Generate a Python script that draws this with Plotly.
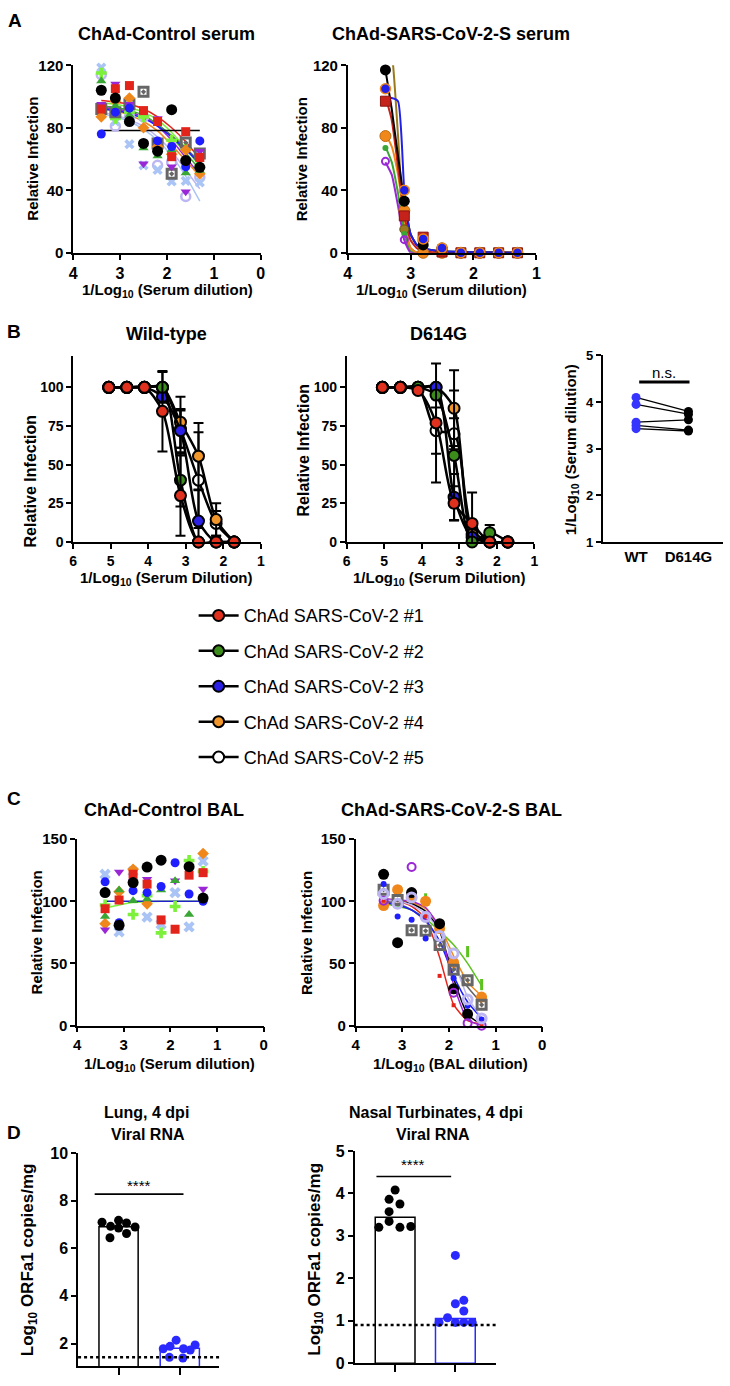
import plotly.graph_objects as go

W, H = 730, 1386

# ---------------- Panel A : serum neutralization (dilution = 1/log10) ----------------
A_DIL = [3.4, 3.1, 2.8, 2.5, 2.2, 1.9, 1.6, 1.3]

A1_black = [104, 99, 84, 70, 65, 91.6, 59, 54.7]
A1_black_fit = [78.3, 78.3, 78.3, 78.3, 78.3, 78.3, 78.3, 78.3]
A1_red = [92, 105, 107, 91, 84, 61.5, 77.5, 61]
A1_red_fit = [97.5, 96.5, 95, 92, 87, 80, 71, 60]
A1_blue = [76, 90, 92.6, 70, 71.6, 68, 55, 71.6]
A1_blue_fit = [92, 91, 89, 86, 81, 74, 66, 57]
A1_green = [110, 94, 88, 67, 62, 66, 51, 52.6]
A1_green_fit = [94, 93, 91, 88, 82, 74, 64, 53]
A1_purple = [95, 108, 95, 57, 86, 55, 39, 65]
A1_purple_fit = [93, 92, 90, 87, 81, 72, 61, 50]
A1_orange = [87, 97, 99, 80, 68, 63, 65.7, 50.5]
A1_orange_fit = [92, 91, 88, 84, 78, 69, 59, 49]
A1_ltblue = [118.5, 84, 69.5, 56, 53, 45.7, 46, 45]
A1_ltblue_fit = [89, 87, 84, 79, 72, 62, 49, 33]
A1_ltgreen = [115, 86, 90, 87, 70, 72, 67, 55]
A1_ltgreen_fit = [96, 95, 93, 90, 85, 77, 67, 55]
A1_lavender = [114, 81, 87, 87, 56, 58, 36, 48.4]
A1_lavender_fit = [90, 88, 85, 81, 74, 65, 53, 41]
A1_gray = [92, 90, 95, 103, 70, 50.5, 70.5, 63.6]
A1_gray_fit = [93, 92, 90, 87, 82, 75, 67, 58]

A2_black = [117, 33, 5, 3, 0, 0, 0, 0]
A2_red = [97, 23.6, 10, 0.5, 0, 0, 0, 0]
A2_blue = [105, 40, 8.8, 3, 0, 0, 0, 0]
A2_orange = [74.7, 27, 0, 0, 0, 0, 0, 0]
A2_green = [67, 12, 0, 0, 0, 0, 0, 0]
A2_purple = [58.5, 8.4, 0, 0, 0, 0, 0, 0]
A2_olive = [None, 15, 2, 0, 0, 0, 0, 0]
A2_FIT_X = [3.4, 3.3, 3.2, 3.1, 3.0, 2.9, 2.8, 2.5, 1.3]
A2_black_fit = [117, 92, 62, 33, 12, 5, 3, 1, 0]
A2_red_fit = [100, 85, 55, 24, 8, 3, 1, 0, 0]
A2_blue_fit = [99, 99, 97, 40, 12, 5, 3, 1, 0]
A2_orange_fit = [76, 68, 50, 22, 3, 0, 0, 0, 0]
A2_green_fit = [68, 58, 38, 12, 1, 0, 0, 0, 0]
A2_purple_fit = [58, 50, 30, 8, 0, 0, 0, 0, 0]
A2_olive_fit = [140, 128, 75, 15, 3, 0, 0, 0, 0]

# ---------------- Panel B : Wild-type / D614G ----------------
B_DIL = [5.05, 4.57, 4.10, 3.62, 3.14, 2.66, 2.19, 1.71]
B_NAMES = ["ChAd SARS-CoV-2 #1", "ChAd SARS-CoV-2 #2", "ChAd SARS-CoV-2 #3",
           "ChAd SARS-CoV-2 #4", "ChAd SARS-CoV-2 #5"]
WT_1 = [100, 100, 100, 84.5, 30, 0, 0, 0]
WT_1_err = [0, 0, 0, 26, 26, 0, 0, 0]
WT_2 = [100, 100, 100, 100, 40, 0, 0, 0]
WT_2_err = [0, 0, 0, 10, 17, 0, 0, 0]
WT_3 = [100, 100, 100, 94, 72, 13.5, 0, 0]
WT_3_err = [0, 0, 0, 0, 14, 20, 0, 0]
WT_4 = [100, 100, 100, 100, 77.5, 55.5, 14.5, 0]
WT_4_err = [0, 0, 0, 0, 16.5, 21.5, 10.5, 0]
WT_5 = [100, 100, 100, 100, 73, 40, 12, 0]
WT_5_err = [0, 0, 0, 0, 12, 31, 8, 0]

D6_1 = [100, 100, 98, 77, 25, 12, 0, 0]
D6_1_err = [0, 0, 0, 38.5, 11, 20, 0, 0]
D6_2 = [100, 100, 100, 95, 56, 0, 6, 0]
D6_2_err = [0, 0, 0, 0, 42, 0, 5, 0]
D6_3 = [100, 100, 100, 100, 29, 3, 0, 0]
D6_3_err = [0, 0, 0, 0, 15, 5, 0, 0]
D6_4 = [100, 100, 100, 100, 86.5, 5, 0, 0]
D6_4_err = [0, 0, 0, 0, 24.5, 5, 0, 0]
D6_5 = [100, 100, 100, 72, 70, 8, 0, 0]
D6_5_err = [0, 0, 0, 15, 10, 5, 0, 0]

B3_CATS = ["WT", "D614G"]
B3_WT = [4.10, 3.95, 3.57, 3.50, 3.43]
B3_D614G = [3.80, 3.74, 3.62, 3.40, 3.38]

# ---------------- Panel C : BAL ----------------
C_DIL = [3.4, 3.1, 2.8, 2.5, 2.2, 1.9, 1.6, 1.3]
C1_black = [107, 80.7, 115, 127.5, 133, None, 127.8, 102.6]
C1_red = [94, 101, 121.7, 113.8, 85, 77.5, 121, 123]
C1_blue = [115.6, 82.8, 108.5, 107, 111.9, 131, 105.8, 100]
C1_green = [87.8, 109, 100.5, 101.9, 109, 116.4, 89.4, None]
C1_purple = [77, 123.5, 115.9, 117.7, None, 116.4, 127.5, 109.8]
C1_orange = [82, 107.7, 125.7, 97.9, None, None, None, 138.4]
C1_ltblue = [121.7, 75.4, 124, 87.3, 81.5, 107, 79.4, 132.3]
C1_ltgreen = [97, None, 89.4, 104.5, 74.6, 95.8, 132.8, 124]
C1_blue_fit = [100, 100, 100, 100, 100, 100, 100, 100]
C1_ltgreen_fit = [94.5, 97, 99, 99.7, 100, 100, 100, 100]

C2_black = [121.7, 66.7, 107, None, 82, 29.6, 9.3, None]
C2_black_fit = [101, 100, 98, 92, 76, 38, 9, 1]
C2_red = [100.5, None, None, 88, 40, 16.4, None, 1.3]
C2_red_fit = [101, 100, 96, 86, 55, 17, 4, 1]
C2_blue = [113.8, 87.8, 85.2, 70, None, 38, 15.9, 5]
C2_blue_fit = [99, 97, 93, 85, 68, 40, 19, 6]
C2_orange = [96.6, 109.3, 103, 100, 78, 50.8, None, 23]
C2_orange_fit = [102, 101, 99, 94, 80, 56, 35, 24]
C2_green = [None, None, None, 101.9, None, None, 59.5, 33]
C2_green_fit = [98, 96, 93, 86, 76, 65, 50, 32]
C2_purple = [100.5, None, 127.5, 88, None, 26.5, 2, 0]
C2_purple_fit = [102, 101, 100, 95, 78, 33, 5, 0]
C2_gray = [109.3, 101, 76.7, 76.2, 64.8, 45, 36.5, 16.7]
C2_gray_fit = [100, 98, 93, 84, 68, 48, 31, 18]
C2_lavender = [105.8, 97.9, 103, 87.3, 72, 58, 21, 5.8]
C2_lavender_fit = [101, 100, 97, 90, 76, 52, 23, 6]

# ---------------- Panel D : viral RNA ----------------
D1_bars = [6.9, 1.8]
D1_ctrl = [7.09, 6.92, 7.17, 7.06, 6.89, 6.44, 6.62, 6.85]
D1_vacc = [1.78, 1.88, 2.14, 1.78, 1.94, 1.42, 1.39, 1.73]
D1_lod = 1.42
D2_bars = [3.44, 1.05]
D2_ctrl = [4.08, 3.86, 3.75, 3.57, 3.34, 3.20, 3.20, 3.22]
D2_vacc = [2.54, 1.48, 1.40, 1.23, 1.07, 0.96, 0.96, 0.96, 0.96]
D2_lod = 0.9

# jitter offsets (layout of dots inside each column)
D1_ctrl_off = [-0.27, -0.13, 0, 0.13, 0.27, -0.14, 0.13, 0]
D1_vacc_off = [-0.27, -0.16, -0.06, 0.06, 0.25, -0.17, 0.05, 0.17]
D2_ctrl_off = [0, -0.1, 0.08, -0.1, -0.1, -0.27, 0.08, 0.26]
D2_vacc_off = [0, 0.14, 0, 0.14, -0.13, -0.27, 0, 0.14, 0.28]

# ---------------- colours ----------------
BLACK = '#000000'; RED = '#e3241b'; BLUE = '#1e1eff'; GREEN = '#3aa635'
PURPLE = '#9a27d6'; ORANGE = '#f0871a'; LTBLUE = '#a9c4f5'; LTGREEN = '#7cf03a'
LAV = '#bcb6f2'; GRAY = '#666666'; OLIVE = '#9a7a1c'
B_COLORS = ['#e0301e', '#3c8c1c', '#2a20e6', '#f0962a', '#ffffff']
FONT = 'Arial, Liberation Sans, sans-serif'

fig = go.Figure()


def xa(n):
    return 'x' if n == 1 else f'x{n}'


def ya(n):
    return 'y' if n == 1 else f'y{n}'


def mk(color, symbol='circle', size=8, lw=0, lc=None):
    return dict(color=color, symbol=symbol, size=size,
                line=dict(width=lw, color=lc if lc else color))


def line_tr(n, x, y, color, width=1.5, smooth=0.6):
    fig.add_trace(go.Scatter(x=x, y=y, mode='lines', xaxis=xa(n), yaxis=ya(n),
                             line=dict(color=color, width=width, shape='spline', smoothing=smooth),
                             showlegend=False, hoverinfo='skip'))


def pts_tr(n, x, y, marker):
    fig.add_trace(go.Scatter(x=x, y=y, mode='markers', xaxis=xa(n), yaxis=ya(n),
                             marker=marker, showlegend=False, cliponaxis=False))


# ---- A1
A1_SERIES = [
    (A1_lavender, A1_lavender_fit, LAV, mk(LAV, 'circle-open', 9, 2.5)),
    (A1_ltblue, A1_ltblue_fit, LTBLUE, mk(LTBLUE, 'x', 9)),
    (A1_ltgreen, A1_ltgreen_fit, LTGREEN, mk(LTGREEN, 'cross', 9)),
    (A1_gray, A1_gray_fit, GRAY, mk(GRAY, 'square-open-dot', 9, 3)),
    (A1_orange, A1_orange_fit, ORANGE, mk(ORANGE, 'diamond', 9)),
    (A1_green, A1_green_fit, GREEN, mk(GREEN, 'triangle-up', 9)),
    (A1_purple, A1_purple_fit, PURPLE, mk(PURPLE, 'triangle-down', 9)),
    (A1_blue, A1_blue_fit, BLUE, mk(BLUE, 'circle', 9)),
    (A1_red, A1_red_fit, RED, mk(RED, 'square', 9)),
    (A1_black, A1_black_fit, BLACK, mk(BLACK, 'circle', 11)),
]
for pts, fit, col, m in A1_SERIES:
    line_tr(1, A_DIL, fit, col, 1.5)
for pts, fit, col, m in A1_SERIES:
    pts_tr(1, A_DIL, pts, m)

# ---- A2
A2_SERIES = [
    (A2_olive, A2_olive_fit, OLIVE, mk(OLIVE, 'circle', 9, 1, '#6b5210')),
    (A2_green, A2_green_fit, GREEN, mk(GREEN, 'circle', 6)),
    (A2_purple, A2_purple_fit, PURPLE, mk(PURPLE, 'circle-open', 7, 2)),
    (A2_orange, A2_orange_fit, ORANGE, mk(ORANGE, 'circle', 11, 1, '#c06a10')),
    (A2_red, A2_red_fit, '#c4221a', mk('#c4221a', 'square', 10, 1, '#8a1510')),
    (A2_black, A2_black_fit, BLACK, mk(BLACK, 'circle', 11)),
    (A2_blue, A2_blue_fit, '#2020e8', mk('#2020e8', 'circle', 10, 1.5, ORANGE)),
]
for pts, fit, col, m in A2_SERIES:
    line_tr(2, A2_FIT_X, fit, col, 2, 0.5)
for pts, fit, col, m in A2_SERIES:
    pts_tr(2, A_DIL, pts, m)

# ---- B1 / B2
WT_SERIES = [(WT_1, WT_1_err), (WT_2, WT_2_err), (WT_3, WT_3_err), (WT_4, WT_4_err), (WT_5, WT_5_err)]
D6_SERIES = [(D6_1, D6_1_err), (D6_2, D6_2_err), (D6_3, D6_3_err), (D6_4, D6_4_err), (D6_5, D6_5_err)]
for n, series, show in ((3, WT_SERIES, True), (4, D6_SERIES, False)):
    for i in reversed(range(5)):
        y, err = series[i]
        fig.add_trace(go.Scatter(
            x=B_DIL, y=y, mode='lines+markers', xaxis=xa(n), yaxis=ya(n),
            line=dict(color='black', width=2.5, shape='spline', smoothing=0.8),
            marker=dict(color=B_COLORS[i], size=11, line=dict(color='black', width=2)),
            error_y=dict(type='data', array=err, visible=True, color='black', thickness=2, width=5),
            name=B_NAMES[i], legendgroup=f'g{i}', legendrank=i + 1,
            showlegend=show, cliponaxis=False, hoverinfo='skip'))

# ---- B3
for a, b in zip(B3_WT, B3_D614G):
    fig.add_trace(go.Scatter(x=[0, 1], y=[a, b], mode='lines', xaxis='x5', yaxis='y5',
                             line=dict(color='black', width=1.3), showlegend=False, hoverinfo='skip'))
fig.add_trace(go.Scatter(x=[0] * len(B3_WT), y=B3_WT, mode='markers', xaxis='x5', yaxis='y5',
                         marker=dict(color='#3535ff', size=9), showlegend=False, cliponaxis=False))
fig.add_trace(go.Scatter(x=[1] * len(B3_D614G), y=B3_D614G, mode='markers', xaxis='x5', yaxis='y5',
                         marker=dict(color='black', size=9), showlegend=False, cliponaxis=False))

# ---- C1
C1_SERIES = [
    (C1_ltblue, mk(LTBLUE, 'x', 10)),
    (C1_ltgreen, mk(LTGREEN, 'cross', 9)),
    (C1_orange, mk(ORANGE, 'diamond', 9)),
    (C1_purple, mk(PURPLE, 'triangle-down', 9)),
    (C1_green, mk(GREEN, 'triangle-up', 9)),
    (C1_blue, mk(BLUE, 'circle', 9)),
    (C1_red, mk(RED, 'square', 9)),
    (C1_black, mk(BLACK, 'circle', 11)),
]
line_tr(6, C_DIL, C1_ltgreen_fit, LTGREEN, 1.5)
line_tr(6, C_DIL, C1_blue_fit, '#2222cc', 1.5)
for pts, m in C1_SERIES:
    pts_tr(6, C_DIL, pts, m)

# ---- C2
C2_SERIES = [
    (C2_green, C2_green_fit, '#5cc21e', mk('#5cc21e', 'line-ns', 8, 3)),
    (C2_orange, C2_orange_fit, ORANGE, mk(ORANGE, 'circle', 11)),
    (C2_gray, C2_gray_fit, GRAY, mk(GRAY, 'square-open-dot', 9, 3)),
    (C2_black, C2_black_fit, BLACK, mk(BLACK, 'circle', 11)),
    (C2_red, C2_red_fit, RED, mk(RED, 'square', 4)),
    (C2_blue, C2_blue_fit, BLUE, mk(BLUE, 'circle', 6)),
    (C2_purple, C2_purple_fit, PURPLE, mk(PURPLE, 'circle-open', 8, 2)),
    (C2_lavender, C2_lavender_fit, LAV, mk(LAV, 'circle-open', 9, 3)),
]
for pts, fit, col, m in C2_SERIES:
    line_tr(7, C_DIL, fit, col, 1.5)
for pts, fit, col, m in C2_SERIES:
    pts_tr(7, C_DIL, pts, m)

# ---- D1 / D2
D_BLUE = '#2a2aff'
for n, bars, ctrl, vacc, coff, voff, w in ((8, D1_bars, D1_ctrl, D1_vacc, D1_ctrl_off, D1_vacc_off, 0.64),
                                          (9, D2_bars, D2_ctrl, D2_vacc, D2_ctrl_off, D2_vacc_off, 0.66)):
    fig.add_trace(go.Bar(x=[0], y=[bars[0]], width=w, xaxis=xa(n), yaxis=ya(n),
                         marker=dict(color='white', line=dict(color='black', width=1.5)),
                         showlegend=False, hoverinfo='skip'))
    fig.add_trace(go.Bar(x=[1], y=[bars[1]], width=w, xaxis=xa(n), yaxis=ya(n),
                         marker=dict(color='white', line=dict(color=D_BLUE, width=1.5)),
                         showlegend=False, hoverinfo='skip'))
    pts_tr(n, [0 + o for o in coff], ctrl, dict(color='black', size=9))
    pts_tr(n, [1 + o for o in voff], vacc, dict(color=D_BLUE, size=9))

# ---------------- axes ----------------
AXES = [
    # n, x px, y px, x range, y range, x ticks, y ticks, x font, y font
    (1, (70, 260), (57, 247), [4, 0], [0, 120], [4, 3, 2, 1, 0], [0, 40, 80, 120], 16, 15),
    (2, (348, 539), (57, 247), [4, 1], [0, 120], [4, 3, 2, 1], [0, 40, 80, 120], 16, 15),
    (3, (70, 260), (352, 540), [6, 1], [0, 120], [6, 5, 4, 3, 2, 1], [0, 25, 50, 75, 100], 14, 14),
    (4, (347, 537), (352, 540), [6, 1], [0, 120], [6, 5, 4, 3, 2, 1], [0, 25, 50, 75, 100], 14, 14),
    (5, (606, 728), (351, 540), [-0.64, 1.66], [1, 5], [0, 1], [1, 2, 3, 4, 5], 15, 13),
    (6, (74, 263), (841, 1030), [4, 0], [0, 150], [4, 3, 2, 1, 0], [0, 50, 100, 150], 15, 15),
    (7, (356, 545), (841, 1030), [4, 0], [0, 150], [4, 3, 2, 1, 0], [0, 50, 100, 150], 15, 15),
    (8, (75, 218), (1159, 1375), [-0.661, 1.645], [1.05, 10], [0, 1], [2, 4, 6, 8, 10], 16, 16),
    (9, (355, 498), (1157, 1372), [-0.672, 1.672], [0, 5], [0, 1], [0, 1, 2, 3, 4, 5], 16, 16),
]
layout_axes = {}
for n, (x0, x1), (y0, y1), xr, yr, xt, yt, xf, yf in AXES:
    common = dict(showline=True, linecolor='black', linewidth=1.6, ticks='outside', ticklen=5,
                  tickwidth=1.6, tickcolor='black', showgrid=False, zeroline=False, fixedrange=True)
    xd = dict(common, domain=[x0 / W, x1 / W], anchor=ya(n), range=xr, tickvals=xt,
              tickfont=dict(size=xf, color='black', family=FONT, weight='bold'))
    yd = dict(common, domain=[1 - y1 / H, 1 - y0 / H], anchor=xa(n), range=yr, tickvals=yt,
              tickfont=dict(size=yf, color='black', family=FONT, weight='bold'))
    if n == 5:
        xd.update(ticktext=B3_CATS, ticks='')
    if n in (8, 9):
        xd.update(showticklabels=False, ticklen=7)
    layout_axes['xaxis' if n == 1 else f'xaxis{n}'] = xd
    layout_axes['yaxis' if n == 1 else f'yaxis{n}'] = yd

fig.update_layout(**layout_axes)

# ---------------- shapes ----------------
shapes = [
    dict(type='line', xref='x8 domain', yref='y8', x0=0, x1=1, y0=D1_lod, y1=D1_lod,
         line=dict(color='black', width=2.5, dash='dot')),
    dict(type='line', xref='x9 domain', yref='y9', x0=0, x1=1, y0=D2_lod, y1=D2_lod,
         line=dict(color='black', width=2.5, dash='dot')),
    dict(type='line', xref='x8', yref='y8', x0=-0.39, x1=1.06, y0=8.27, y1=8.27,
         line=dict(color='black', width=1.6)),
    dict(type='line', xref='x9', yref='y9', x0=-0.31, x1=0.93, y0=4.4, y1=4.4,
         line=dict(color='black', width=1.6)),
    dict(type='line', xref='x5', yref='y5', x0=0.06, x1=1.02, y0=4.43, y1=4.43,
         line=dict(color='black', width=3)),
]
fig.update_layout(shapes=shapes)

# ---------------- text ----------------
TEXTS = [
    # text, x px, y px, size, bold, angle
    ('A', 11, 12, 19, True, 0),
    ('ChAd-Control serum', 165, 25, 18, True, 0),
    ('ChAd-SARS-CoV-2-S serum', 453, 25, 18, True, 0),
    ('Relative Infection', 28, 152, 15, True, -90),
    ('Relative Infection', 301, 152, 15, True, -90),
    ('1/Log<sub>10</sub> (Serum dilution)', 166, 285, 15, True, 0),
    ('1/Log<sub>10</sub> (Serum dilution)', 443, 285, 15, True, 0),
    ('B', 10, 327, 19, True, 0),
    ('Wild-type', 165, 329, 18, True, 0),
    ('D614G', 440, 329, 18, True, 0),
    ('Relative Infection', 27, 479, 16, True, -90),
    ('Relative Infection', 303, 447, 16, True, -90),
    ('1/Log<sub>10</sub> (Serum Dilution)', 165, 577, 15, True, 0),
    ('1/Log<sub>10</sub> (Serum Dilution)', 441, 577, 15, True, 0),
    ('1/Log<sub>10</sub> (Serum dilution)', 574, 446, 15, True, -90),
    ('n.s.', 668, 368, 15, False, 0),
    ('C', 10, 800, 19, True, 0),
    ('ChAd-Control BAL', 162, 812, 18, True, 0),
    ('ChAd-SARS-CoV-2-S BAL', 453, 812, 18, True, 0),
    ('Relative Infection', 33, 936, 15, True, -90),
    ('Relative Infection', 307, 936, 15, True, -90),
    ('1/Log<sub>10</sub> (Serum dilution)', 168, 1069, 15, True, 0),
    ('1/Log<sub>10</sub> (BAL dilution)', 452, 1069, 15, True, 0),
    ('D', 10, 1138, 19, True, 0),
    ('Lung, 4 dpi', 144, 1118, 16, True, 0),
    ('Viral RNA', 146, 1140, 16, True, 0),
    ('Nasal Turbinates, 4 dpi', 437, 1118, 16, True, 0),
    ('Viral RNA', 434, 1140, 16, True, 0),
    ('Log<sub>10</sub> ORFa1 copies/mg', 25, 1267, 17, True, -90),
    ('Log<sub>10</sub> ORFa1 copies/mg', 315, 1267, 17, True, -90),
    ('****', 137, 1192, 15, False, 0),
    ('****', 414, 1171, 15, False, 0),
]
for t, x, y, s, b, ang in TEXTS:
    fig.add_annotation(text=t, x=x / W, y=1 - y / H, xref='paper', yref='paper', showarrow=False,
                       textangle=ang, xanchor='center', yanchor='middle',
                       font=dict(size=s, color='black', family=FONT, weight='bold' if b else 'normal'))

fig.update_layout(
    width=W, height=H, margin=dict(l=0, r=0, t=0, b=0),
    paper_bgcolor='white', plot_bgcolor='white',
    font=dict(family=FONT, color='black'),
    showlegend=True,
    legend=dict(x=192 / W, y=1 - 596 / H, xanchor='left', yanchor='top',
                font=dict(size=18, family=FONT, color='black'),
                tracegroupgap=9, itemwidth=40, bgcolor='rgba(0,0,0,0)', itemclick=False),
    barmode='overlay',
)

fig.write_html("out.html", config={'displayModeBar': False},
               post_script="document.body.style.margin='0px';document.body.style.overflow='hidden';")
